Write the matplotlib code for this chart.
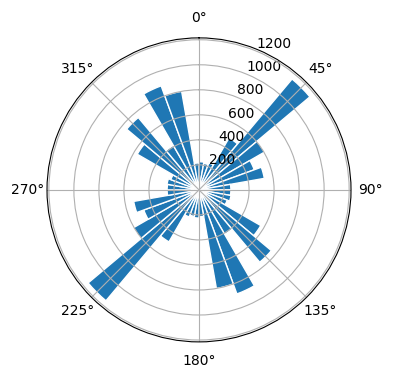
import numpy as np
import matplotlib
matplotlib.use("Agg")
import matplotlib.pyplot as plt

# rose diagram, 10 degree bins, values read for 0-180 (mirrored for 180-360)
bin_centers = np.arange(5, 180, 10)
half_counts = [225, 215, 230, 480, 1157, 605, 470, 530, 255,
               255, 260, 240, 570, 755, 410, 885, 800, 215]

angles = np.concatenate([bin_centers, bin_centers + 180])
counts = np.concatenate([half_counts, half_counts])

fig = plt.figure(figsize=(3.96, 3.8), dpi=100)
ax = fig.add_axes([0.1187, 0.1003, 0.7677, 0.8], projection='polar')
ax.set_theta_zero_location('N')
ax.set_theta_direction(-1)
ax.bar(np.deg2rad(angles), counts, width=np.deg2rad(10), bottom=0.0,
       color='#1f77b4', edgecolor='white')
ax.set_thetagrids(np.arange(0, 360, 45))
ax.set_rgrids(np.arange(200, 1201, 200))

fig.savefig('out.png', dpi=100)
